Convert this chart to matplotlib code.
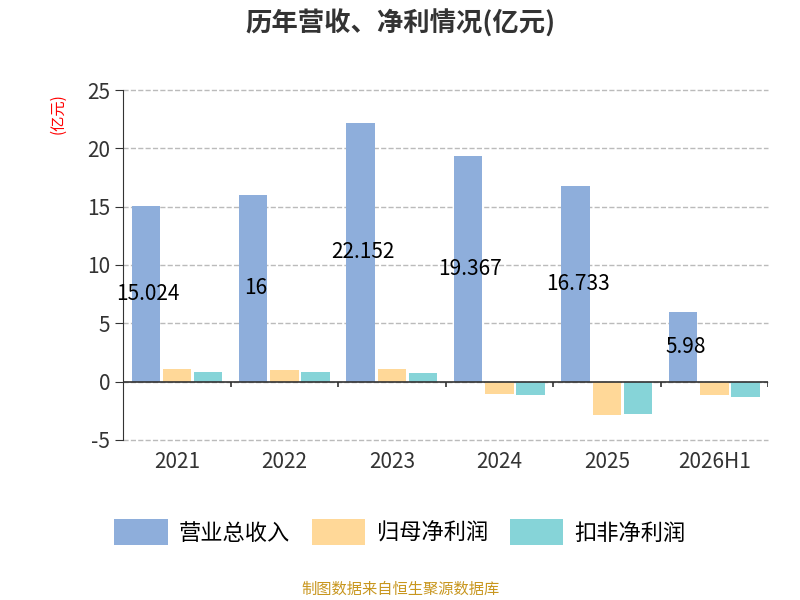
import matplotlib
matplotlib.use("Agg")
import matplotlib.pyplot as plt
import numpy as np

plt.rcParams['font.family'] = ['Noto Sans CJK SC', 'DejaVu Sans']
plt.rcParams['axes.unicode_minus'] = False

years = ['2021', '2022', '2023', '2024', '2025', '2026H1']
revenue = [15.024, 16, 22.152, 19.367, 16.733, 5.98]
net_profit = [1.1, 1.0, 1.1, -1.1, -2.9, -1.2]
deducted_profit = [0.85, 0.8, 0.75, -1.2, -2.8, -1.3]
series_names = ['营业总收入', '归母净利润', '扣非净利润']
colors = ['#8eaedb', '#ffd898', '#86d4d8']

fig = plt.figure(figsize=(8, 6), dpi=100)
ax = fig.add_axes([0.154, 0.267, 0.806, 0.583])

x = np.arange(len(years))
w = 0.265
off = 0.29
ax.bar(x - off, revenue, w, color=colors[0], label=series_names[0])
ax.bar(x, net_profit, w, color=colors[1], label=series_names[1])
ax.bar(x + off, deducted_profit, w, color=colors[2], label=series_names[2])

for xi, v in zip(x, revenue):
    ax.text(xi - off + 0.02, v / 2, f'{v:g}', ha='center', va='center', fontsize=15, color='black')

ax.set_xlim(-0.5, len(years) - 0.5)
ax.set_ylim(-5, 25)
ax.set_yticks(range(-5, 26, 5))
ax.grid(axis='y', linestyle='--', color='#bbbbbb', linewidth=1)
for gl in ax.get_ygridlines():
    gl.set_clip_on(False)
ax.set_axisbelow(True)
for s in ['top', 'right', 'bottom']:
    ax.spines[s].set_visible(False)
ax.spines['left'].set_color('#333333')
ax.axhline(0, color='#333333', linewidth=1.2)
ax.vlines(np.arange(len(years) + 1) - 0.5, -0.5, 0, color='#333333', linewidth=1.2)
ax.set_xticks(x)
ax.set_xticklabels(years)
ax.tick_params(axis='x', length=0, labelsize=15, colors='#333333', pad=8)
ax.tick_params(axis='y', labelsize=15, colors='#333333', length=6)

fig.text(0.5, 0.96, '历年营收、净利情况(亿元)', ha='center', va='center', fontsize=19, fontweight='bold', color='#333333')
fig.text(0.073, 0.81, '(亿元)', rotation=90, ha='center', va='center', fontsize=11, color='red')

fig.legend(loc='center', bbox_to_anchor=(0.5, 0.113), ncol=3, frameon=False, fontsize=16,
           handlelength=2.4, handleheight=1.4, columnspacing=1.0, handletextpad=0.5)
fig.text(0.5, 0.018, '制图数据来自恒生聚源数据库', ha='center', va='center', fontsize=11, color='#c8961e')

fig.savefig('out.png', dpi=100)
